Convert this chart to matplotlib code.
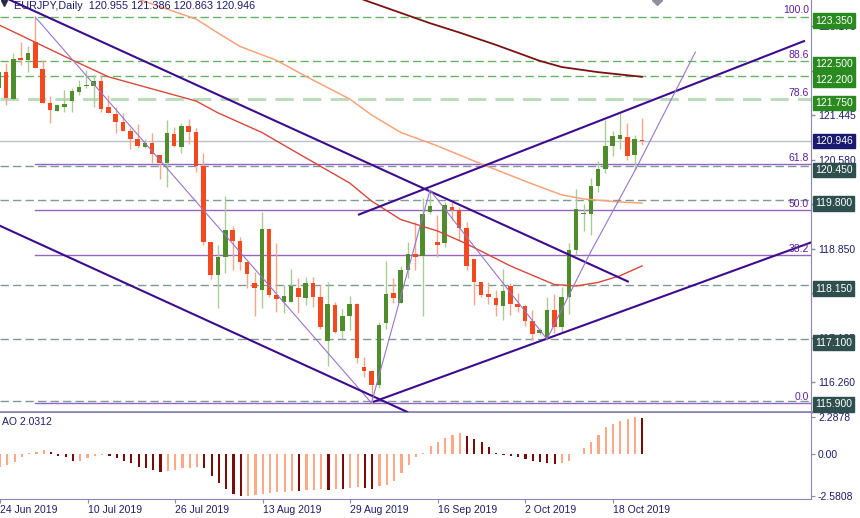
import numpy as np
import matplotlib
matplotlib.use('Agg')
import matplotlib.pyplot as plt

plt.rcParams['font.family'] = ['Liberation Sans', 'DejaVu Sans']

# ============================================================
# Data
# ============================================================
opens = [121.97, 122.29, 121.75, 122.53, 122.52, 122.86, 122.35, 121.69, 121.53, 121.60,
         121.72, 121.90, 122.01, 122.01, 122.10, 121.60, 121.47, 121.31, 121.14, 120.98,
         120.82, 120.90, 120.67, 120.51, 121.08, 120.82, 121.24, 121.11, 120.46, 118.98,
         118.34, 118.69, 119.22, 119.00, 118.59, 118.18, 118.05, 119.24, 117.96, 117.83,
         117.83, 118.10, 117.89, 118.18, 117.91, 117.07, 117.76, 117.26, 117.55, 117.78,
         116.55, 116.49, 116.21, 117.42, 117.99, 117.81, 118.45, 118.75, 118.71, 119.57,
         118.99, 118.97, 119.67, 119.61, 119.25, 118.65, 118.20, 117.98, 117.89, 117.74,
         118.13, 117.78, 117.74, 117.46, 117.21, 117.12, 117.66, 117.33, 117.91, 118.82,
         119.53, 119.53, 120.07, 120.41, 120.85, 120.99, 121.02, 120.67, 120.955]
highs = [122.35, 122.45, 122.65, 122.87, 122.78, 123.35, 122.52, 121.82, 121.67, 121.93,
         121.97, 122.13, 122.32, 122.23, 122.23, 121.84, 121.61, 121.48, 121.19, 121.27,
         120.98, 121.09, 120.68, 121.36, 121.22, 121.30, 121.38, 121.19, 120.71, 118.98,
         118.93, 119.88, 119.30, 119.09, 118.59, 118.41, 119.57, 119.24, 118.96, 118.15,
         118.47, 118.28, 118.31, 118.31, 118.15, 118.20, 117.83, 117.68, 117.94, 117.81,
         116.76, 116.50, 117.44, 118.62, 118.28, 118.51, 118.99, 119.38, 119.83, 119.99,
         119.51, 119.77, 119.77, 119.67, 119.38, 118.65, 118.20, 118.20, 118.05, 118.47,
         118.18, 118.00, 117.76, 117.66, 117.31, 117.91, 117.98, 118.12, 118.96, 120.01,
         119.72, 120.22, 120.56, 121.35, 121.13, 121.48, 121.29, 121.06, 121.386]
lows = [121.90, 121.64, 121.74, 122.42, 122.29, 122.36, 121.69, 121.30, 121.52, 121.51,
        121.51, 121.84, 121.97, 121.61, 121.51, 121.48, 121.09, 121.14, 120.78, 120.80,
        120.80, 120.51, 120.20, 120.06, 120.83, 120.72, 120.88, 120.35, 118.93, 118.26,
        117.70, 118.38, 118.44, 118.44, 118.09, 117.54, 117.70, 117.92, 117.63, 117.60,
        117.82, 117.60, 117.76, 117.73, 117.29, 116.58, 117.21, 117.10, 117.28, 116.63,
        116.36, 115.86, 116.15, 117.29, 117.81, 117.80, 118.28, 118.44, 117.55, 119.53,
        118.70, 118.88, 119.41, 119.02, 118.44, 117.76, 117.92, 117.78, 117.54, 117.47,
        117.57, 117.63, 117.35, 117.08, 117.18, 117.08, 117.21, 117.23, 117.59, 118.73,
        119.19, 119.12, 119.96, 120.33, 120.65, 120.78, 120.58, 120.38, 120.863]
closes = [122.29, 121.77, 122.53, 122.52, 122.65, 122.37, 121.69, 121.55, 121.64, 121.66,
          121.91, 121.99, 122.02, 122.10, 121.56, 121.48, 121.32, 121.14, 120.98, 120.85,
          120.90, 120.69, 120.51, 121.09, 120.85, 121.24, 121.11, 120.46, 118.99, 118.34,
          118.70, 119.22, 119.01, 118.59, 118.36, 118.09, 119.24, 117.96, 117.87, 117.94,
          118.13, 117.91, 118.18, 117.91, 117.33, 117.78, 117.24, 117.55, 117.78, 116.73,
          116.49, 116.21, 117.37, 117.98, 117.89, 118.45, 118.75, 118.70, 119.53, 119.68,
          118.93, 119.70, 119.61, 119.25, 118.51, 118.20, 117.96, 117.92, 117.76, 118.04,
          117.78, 117.73, 117.46, 117.20, 117.28, 117.66, 117.33, 117.92, 118.82, 119.62,
          119.54, 120.07, 120.41, 120.85, 121.04, 121.06, 120.65, 120.98, 120.946]

# Awesome Oscillator
ao_values = [-0.76, -0.65, -0.49, -0.18, 0.10, 0.16, 0.27, 0.16, -0.10, -0.18,
             -0.41, -0.39, -0.25, -0.10, -0.06, -0.10, -0.25, -0.41, -0.55, -0.76,
             -0.86, -0.96, -1.10, -1.02, -0.96, -0.86, -0.82, -0.76, -0.86, -1.31,
             -1.78, -2.15, -2.45, -2.58, -2.56, -2.50, -2.45, -2.39, -2.33, -2.31,
             -2.23, -2.26, -2.22, -2.18, -2.15, -2.17, -2.12, -2.14, -2.08, -2.02,
             -2.05, -2.10, -1.95, -1.88, -1.64, -1.17, -0.65, -0.15, 0.10, 0.51,
             0.78, 1.02, 1.19, 1.33, 1.12, 0.92, 0.74, 0.43, 0.10, -0.04,
             -0.10, -0.18, -0.27, -0.39, -0.47, -0.51, -0.61, -0.55, -0.41, 0.02,
             0.37, 0.76, 1.19, 1.66, 1.86, 2.04, 2.17, 2.2878, 2.21]

# moving averages (bar index, value)
ma_red_x = [0, 10, 15, 27, 30, 36, 41, 48, 51, 55, 60, 64, 70, 76, 79, 82, 85, 88]
ma_red_y = [123.20, 122.52, 122.19, 121.72, 121.49, 121.11, 120.70, 120.13, 119.78, 119.42,
            119.20, 118.95, 118.52, 118.16, 118.13, 118.20, 118.33, 118.52]
ma_orange_x = [17, 19, 27, 30, 33, 38, 42, 48, 51, 55, 60, 66, 73, 77, 80, 85, 88]
ma_orange_y = [123.79, 123.70, 123.31, 123.04, 122.78, 122.51, 122.20, 121.76, 121.45, 121.11,
               120.85, 120.50, 120.11, 119.90, 119.82, 119.76, 119.74]
ma_dark_x = [49, 50, 54, 59, 63, 68, 74, 77, 82, 88]
ma_dark_y = [123.74, 123.68, 123.48, 123.23, 123.05, 122.81, 122.50, 122.38, 122.28, 122.19]

# dates on the time axis
date_ticks = [0, 12, 24, 36, 48, 60, 72, 84]
date_labels = ['24 Jun 2019', '10 Jul 2019', '26 Jul 2019', '13 Aug 2019',
               '29 Aug 2019', '16 Sep 2019', '2 Oct 2019', '18 Oct 2019']

# price scale labels (119.715 sits fully under the 119.800 box)
price_ticks = [116.260, 117.125, 117.990, 118.850, 119.715, 120.580, 121.445, 122.310, 123.170]
price_tick_labels = ['116.260', '117.125', '117.990', '118.850', '',
                     '120.580', '121.445', '122.310', '123.170']

# horizontal levels
resistance_levels = [123.35, 122.50, 122.20]
pale_level = 121.75
support_levels = [120.45, 119.80, 118.15, 117.10, 115.90]
last_price = 120.946

# fibonacci retracement (from high bar 5 to low bar 51)
fib_start_bar = 5
fib_end_bar = 51
fib_high = 123.36
fib_low = 115.86
fib_levels = [0.0, 38.2, 50.0, 61.8, 78.6, 88.6, 100.0]
fib_lines_shown = [0.0, 38.2, 50.0, 61.8]

# trend lines (bar, price) pairs
trend_down_upper = ([0.0, 86.2], [123.78, 118.21])
trend_down_lower = ([0.0, 56.0], [119.31, 115.68])
trend_up_lower = ([51.2, 111.2], [115.88, 118.98])
trend_up_upper = ([49.15, 110.3], [119.51, 122.89])

# thin swing lines
swing_x = [51, 59, 75]
swing_y = [115.86, 119.99, 117.10]
arc_x = [75, 80.9, 87.3, 95.3]
arc_y = [117.10, 118.77, 120.44, 122.67]

AO_LABEL = 'AO 2.0312'
HEADER = 'EURJPY,Daily  120.955 121.386 120.863 120.946'

# ============================================================
# Colours
# ============================================================
GREEN_BODY = '#4f8c2b'
GREEN_WICK = '#a9cc96'
RED_BODY = '#f4481e'
RED_WICK = '#f7a68e'
AO_UP = '#ffa888'
AO_DOWN = '#7d0a0a'
FRAME = '#8c86b8'
NAVY = '#1c1c6c'
FIB_COL = '#9366c0'
FIB_TXT = '#5b1f99'
TREND = '#3d0b8e'
THIN = '#9a74cc'
RES_DASH = '#66b366'
PALE_DASH = '#bcdcbc'
SUP_DASH = '#7f9a96'
BOX_GREEN = '#2b8a1f'
BOX_DARK = '#2f4f4f'
BOX_NAVY = '#191970'

# ============================================================
# Figure layout (pixel based, 860 x 518)
# ============================================================
W, H = 860, 518
fig = plt.figure(figsize=(W / 100, H / 100), dpi=100)
fig.patch.set_facecolor('white')
ax = fig.add_axes([0, 106 / H, 811 / W, 412 / H])
ax_ao = fig.add_axes([0, 19 / H, 811 / W, 86 / H])

XLIM = (0.18, 111.12)
YLIM = (115.686, 123.68)

idx = np.arange(len(opens))
o = np.array(opens)
h = np.array(highs)
l = np.array(lows)
c = np.array(closes)
up = c >= o

# --- horizontal levels ---
dash = (0, (6, 3))
for lv in resistance_levels:
    ax.axhline(lv, color=RES_DASH, lw=1, ls=dash, zorder=1)
ax.axhline(pale_level, color=PALE_DASH, lw=2.2, ls=dash, zorder=1)
for lv in support_levels:
    ax.axhline(lv, color=SUP_DASH, lw=1, ls=dash, zorder=1)
ax.axhline(last_price, color='#b9c0c8', lw=1, zorder=1)

# --- fibonacci ---
fib_range = fib_high - fib_low
for lv in fib_lines_shown:
    y = fib_low + fib_range * lv / 100
    ax.plot([fib_start_bar, XLIM[1]], [y, y], color=FIB_COL, lw=1, zorder=1.5)
for lv in fib_levels:
    y = fib_low + fib_range * lv / 100
    ax.annotate(f'{lv:.1f}', xy=(1, y), xycoords=('axes fraction', 'data'),
                xytext=(-2, 1), textcoords='offset pixels', ha='right', va='bottom',
                color=FIB_TXT, fontsize=7.5, zorder=6)
ax.plot([fib_start_bar, fib_end_bar], [fib_high - 0.01, fib_low], color=THIN, lw=0.8, zorder=5)

# --- candles ---
ax.vlines(idx, l, h, colors=np.where(up, GREEN_WICK, RED_WICK), lw=1, zorder=2)
body_bottom = np.minimum(o, c)
body_height = np.maximum(np.abs(c - o), 0.025)
ax.bar(idx, body_height, bottom=body_bottom, width=0.62,
       color=np.where(up, GREEN_BODY, RED_BODY), lw=0, zorder=3)

# --- moving averages ---
ax.plot(ma_red_x, ma_red_y, color='#d8473a', lw=1, zorder=4)
ax.plot(ma_orange_x, ma_orange_y, color='#f9a37a', lw=1.1, zorder=4)
ax.plot(ma_dark_x, ma_dark_y, color='#7a1212', lw=1.3, zorder=4)

# --- trend lines ---
for tx, ty in [trend_down_upper, trend_down_lower, trend_up_lower, trend_up_upper]:
    ax.plot(tx, ty, color=TREND, lw=1.5, zorder=5, solid_capstyle='butt')
ax.plot(swing_x, swing_y, color=THIN, lw=0.8, zorder=5)
ax.plot(arc_x, arc_y, color=THIN, lw=0.8, zorder=5)

# --- price scale ---
ax.set_xlim(*XLIM)
ax.set_ylim(*YLIM)
ax.yaxis.tick_right()
ax.set_yticks(price_ticks)
ax.set_yticklabels(price_tick_labels)
ax.tick_params(axis='y', length=3, width=1, color=FRAME, labelcolor=NAVY,
               labelsize=7.5, pad=2)
ax.set_xticks([])
for side in ['top', 'left']:
    ax.spines[side].set_visible(False)
ax.spines['right'].set_color(FRAME)
ax.spines['bottom'].set_color(FRAME)
ax.spines['bottom'].set_linewidth(2)


def price_box(value, face, dy=-3.5):
    ax.annotate(f'{value:.3f}', xy=(1, value), xycoords=('axes fraction', 'data'),
                xytext=(4, dy), textcoords='offset pixels', ha='left', va='center',
                color='white', fontsize=7.5, zorder=10, annotation_clip=False,
                bbox=dict(boxstyle='square,pad=0.22', fc=face, ec=face))


for lv in resistance_levels + [pale_level]:
    price_box(lv, BOX_GREEN)
for lv in support_levels:
    price_box(lv, BOX_DARK)
price_box(last_price, BOX_NAVY, dy=0)

# header and small markers
fig.text(14 / W, 1 - 6 / H, HEADER, color=NAVY, fontsize=7.8, va='center', ha='left')
fig.lines.append(plt.Line2D([4 / W], [1 - 3 / H], marker='v', ms=5, color='#2a2a4a',
                            transform=fig.transFigure))
ax.plot([90.06], [YLIM[1]], marker='D', ms=5, color='#8f8fa0', zorder=6, clip_on=True)

# ============================================================
# AO panel
# ============================================================
ao = np.array(ao_values)
ao_up = np.concatenate([[True], ao[1:] >= ao[:-1]])
ax_ao.bar(idx, ao, width=0.3, color=np.where(ao_up, AO_UP, AO_DOWN), lw=0)
ax_ao.set_xlim(*XLIM)
ax_ao.set_ylim(-2.742, 2.534)
ax_ao.yaxis.tick_right()
ax_ao.set_yticks([2.2878, 0.0, -2.5808])
ax_ao.set_yticklabels(['2.2878', '0.00', '-2.5808'])
ax_ao.tick_params(axis='y', length=3, color=FRAME, labelcolor=NAVY, labelsize=7.5, pad=2)
ax_ao.set_xticks(date_ticks)
ax_ao.set_xticklabels(date_labels, ha='left')
ax_ao.tick_params(axis='x', length=3, color=FRAME, labelcolor=NAVY, labelsize=7.5, pad=1.5)
ax_ao.spines['top'].set_visible(False)
ax_ao.spines['left'].set_visible(False)
ax_ao.spines['right'].set_color(FRAME)
ax_ao.spines['bottom'].set_color(FRAME)
ax_ao.text(2 / 811, 0.9, AO_LABEL, transform=ax_ao.transAxes, color=NAVY,
           fontsize=7.5, va='center', ha='left')

fig.savefig('out.png', dpi=100, facecolor='white')
